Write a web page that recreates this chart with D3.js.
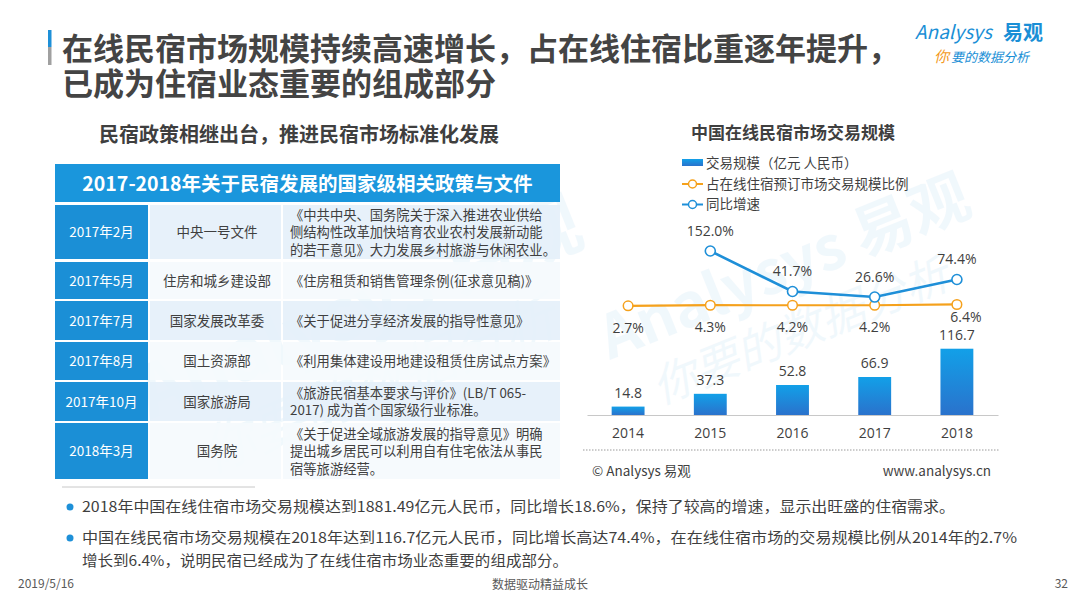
<!DOCTYPE html>
<html><head><meta charset="utf-8">
<script src="https://cdn.jsdelivr.net/npm/d3@7/dist/d3.min.js"></script>
<style>
html,body{margin:0;padding:0;background:#fff;}
svg{display:block;}
text{font-family:"Noto Sans CJK SC","Open Sans",sans-serif;}
.num{font-family:"Open Sans","Noto Sans CJK SC",sans-serif;}
</style></head>
<body>
<svg id="c" width="1080" height="607"></svg>
<script>
// ---------- data ----------
const years = ["2014","2015","2016","2017","2018"];
const marketSize = [14.8, 37.3, 52.8, 66.9, 116.7];           // 交易规模（亿元 人民币）
const shareOfOnline = [2.7, 4.3, 4.2, 4.2, 6.4];              // 占在线住宿预订市场交易规模比例 %
const yoyGrowth = [null, 152.0, 41.7, 26.6, 74.4];             // 同比增速 %

const legendLabels = ["交易规模（亿元 人民币）","占在线住宿预订市场交易规模比例","同比增速"];

const policyDates = ["2017年2月","2017年5月","2017年7月","2017年8月","2017年10月","2018年3月"];
const policyDepts = ["中央一号文件","住房和城乡建设部","国家发展改革委","国土资源部","国家旅游局","国务院"];
const policyDocs = [
  ["《中共中央、国务院关于深入推进农业供给","侧结构性改革加快培育农业农村发展新动能","的若干意见》大力发展乡村旅游与休闲农业。"],
  ["《住房租赁和销售管理条例(征求意见稿)》"],
  ["《关于促进分享经济发展的指导性意见》"],
  ["《利用集体建设用地建设租赁住房试点方案》"],
  ["《旅游民宿基本要求与评价》(LB/T  065-","2017) 成为首个国家级行业标准。"],
  ["《关于促进全域旅游发展的指导意见》明确","提出城乡居民可以利用自有住宅依法从事民","宿等旅游经营。"]
];
const bullets = [
  ["2018年中国在线住宿市场交易规模达到1881.49亿元人民币，同比增长18.6%，保持了较高的增速，显示出旺盛的住宿需求。"],
  ["中国在线民宿市场交易规模在2018年达到116.7亿元人民币，同比增长高达74.4%，在在线住宿市场的交易规模比例从2014年的2.7%","增长到6.4%，说明民宿已经成为了在线住宿市场业态重要的组成部分。"]
];

// ---------- drawing ----------
const svg = d3.select("#c");
const defs = svg.append("defs");
const grad = defs.append("linearGradient").attr("id","barGrad").attr("x1",0).attr("y1",0).attr("x2",0).attr("y2",1);
grad.append("stop").attr("offset","0%").attr("stop-color","#12a0e8");
grad.append("stop").attr("offset","100%").attr("stop-color","#2a72cc");

const dark = "#3f3f3f";

// watermarks
function watermark(x, y, s){
  const g = svg.append("g").attr("transform",`translate(${x},${y}) rotate(-22) scale(${s})`).attr("opacity",0.06);
  g.append("text").attr("x",0).attr("y",0).attr("font-size",80).attr("font-weight",700)
   .attr("fill","#1e90d8").attr("font-family","Open Sans, sans-serif").text("Analysys 易观");
  g.append("text").attr("x",40).attr("y",80).attr("font-size",60)
   .attr("fill","#1e90d8").attr("font-style","italic").text("你要的数据分析");
}
watermark(150, 420, 0.9);
watermark(610, 360, 0.75);

// title
svg.append("rect").attr("x",48).attr("y",30).attr("width",3.5).attr("height",17).attr("fill","#1e90d8");
svg.append("rect").attr("x",48).attr("y",47).attr("width",3.5).attr("height",18).attr("fill","#a0a0a0");
const title = svg.append("text").attr("font-size",31).attr("font-weight",700).attr("fill","#444");
title.append("tspan").attr("x",62).attr("y",60).text("在线民宿市场规模持续高速增长，占在线住宿比重逐年提升，");
title.append("tspan").attr("x",62).attr("y",95).text("已成为住宿业态重要的组成部分");

// logo
svg.append("text").attr("x",915).attr("y",39).attr("font-size",19).attr("fill","#1a8fd6")
  .attr("font-family","Open Sans, sans-serif").attr("font-style","italic").text("Analysys");
svg.append("text").attr("x",1003).attr("y",40).attr("font-size",20).attr("font-weight",700).attr("fill","#1a8fd6").text("易观");
const tl = svg.append("text").attr("x",934).attr("y",62).attr("font-size",13).attr("font-style","italic");
tl.append("tspan").attr("fill","#f39a1e").attr("font-size",15).text("你");
tl.append("tspan").attr("fill","#1a8fd6").attr("dx",2).text("要的数据分析");

// left heading
svg.append("text").attr("x",299).attr("y",142).attr("text-anchor","middle").attr("font-size",20)
  .attr("font-weight",700).attr("fill",dark).text("民宿政策相继出台，推进民宿市场标准化发展");

// table
const tx0 = 55, tx1 = 150, tx2 = 283, tx3 = 560;
svg.append("rect").attr("x",tx0).attr("y",164).attr("width",tx3-tx0).attr("height",38).attr("fill","#1a96dc");
svg.append("text").attr("x",(tx0+tx3)/2).attr("y",191).attr("text-anchor","middle").attr("font-size",19.5)
  .attr("font-weight",700).attr("fill","#fff").text("2017-2018年关于民宿发展的国家级相关政策与文件");

const rowTops = [205, 262, 301, 342, 382, 423];
const rowBots = [259, 299, 340, 380, 421, 479];
const rows = svg.append("g").selectAll("g").data(policyDates).join("g");
rows.each(function(d,i){
  const g = d3.select(this);
  const y0 = rowTops[i], y1 = rowBots[i], h = y1-y0, cy = (y0+y1)/2;
  const bg = i%2===0 ? "#e4f0fa" : "#f5f9fd";
  g.append("rect").attr("x",tx0).attr("y",y0).attr("width",tx1-tx0-2).attr("height",h).attr("fill","#1b8fd6");
  g.append("rect").attr("x",tx1).attr("y",y0).attr("width",tx2-tx1-2).attr("height",h).attr("fill",bg).attr("opacity",0.9);
  g.append("rect").attr("x",tx2).attr("y",y0).attr("width",tx3-tx2).attr("height",h).attr("fill",bg).attr("opacity",0.9);
  g.append("text").attr("x",(tx0+tx1-2)/2).attr("y",cy+5).attr("text-anchor","middle").attr("font-size",13.5)
    .attr("fill","#fff").text(policyDates[i]);
  g.append("text").attr("x",217).attr("y",cy+5).attr("text-anchor","middle").attr("font-size",13.5)
    .attr("fill",dark).text(policyDepts[i]);
  const lines = policyDocs[i];
  const lh = 17.5;
  const startY = cy - (lines.length-1)*lh/2 + 5;
  lines.forEach((ln,k)=>{
    g.append("text").attr("x",290).attr("y",startY+k*lh).attr("font-size",13.3).attr("fill",dark).text(ln);
  });
});

// ---------- chart ----------
svg.append("text").attr("x",793).attr("y",139).attr("text-anchor","middle").attr("font-size",17)
  .attr("font-weight",700).attr("fill",dark).text("中国在线民宿市场交易规模");

const x = d3.scaleBand().domain(years).range([587, 998]).paddingInner(0.6).paddingOuter(0.3);
const yBar = d3.scaleLinear().domain([0, 130]).range([415, 415 - 130*0.568]);
const yPct = d3.scaleLinear().domain([0, 160]).range([306.8, 306.8 - 160*0.367]);
const cx = d => x(d) + x.bandwidth()/2;

const orange = "#f5a11c", blue = "#1e8fd8";

// legend
const lg = svg.append("g");
lg.append("rect").attr("x",682).attr("y",159).attr("width",21).attr("height",7).attr("fill","url(#barGrad)");
[orange, blue].forEach((c,i)=>{
  const yy = 184 + i*20.5;
  lg.append("line").attr("x1",682).attr("x2",703).attr("y1",yy).attr("y2",yy).attr("stroke",c).attr("stroke-width",2);
  lg.append("circle").attr("cx",692.5).attr("cy",yy).attr("r",4).attr("fill","#fff").attr("stroke",c).attr("stroke-width",1.5);
});
legendLabels.forEach((t,i)=>{
  lg.append("text").attr("x",706).attr("y",168 + i*20.5).attr("font-size",13.5).attr("fill",dark).text(t);
});

// bars
svg.append("g").selectAll("rect").data(years).join("rect")
  .attr("x", d => x(d)).attr("width", x.bandwidth())
  .attr("y", (d,i) => yBar(marketSize[i])).attr("height", (d,i) => yBar(0) - yBar(marketSize[i]))
  .attr("fill","url(#barGrad)");
svg.append("g").selectAll("text").data(years).join("text").attr("class","num")
  .attr("x", d => cx(d)).attr("y", (d,i) => yBar(marketSize[i]) - 9)
  .attr("text-anchor","middle").attr("font-size",14).attr("fill",dark)
  .text((d,i) => marketSize[i].toFixed(1));

// axis
const axis = svg.append("g").attr("transform",`translate(0,${yBar(0)})`)
  .call(d3.axisBottom(x).tickSize(0).tickPadding(13));
axis.select(".domain").attr("stroke","#c8c8c8").attr("stroke-width",1.2);
axis.selectAll("text").attr("class","num").attr("font-size",14).attr("fill",dark)
  .attr("font-family","Open Sans, sans-serif");

// share line
const shareLine = d3.line().x((d,i)=>cx(years[i])).y(d=>yPct(d));
svg.append("path").datum(shareOfOnline).attr("d",shareLine).attr("fill","none")
  .attr("stroke",orange).attr("stroke-width",2.2);
svg.append("g").selectAll("circle").data(shareOfOnline).join("circle")
  .attr("cx",(d,i)=>cx(years[i])).attr("cy",d=>yPct(d)).attr("r",4.8)
  .attr("fill","#fff").attr("stroke",orange).attr("stroke-width",1.5);
svg.append("g").selectAll("text").data(shareOfOnline).join("text").attr("class","num")
  .attr("x",(d,i)=>cx(years[i]) + (i===years.length-1 ? 9 : 0))
  .attr("y",(d,i)=>yPct(d) + (i===years.length-1 ? 18 : 27))
  .attr("text-anchor","middle").attr("font-size",14).attr("fill",dark)
  .text(d=>d.toFixed(1)+"%");

// growth line
const gData = yoyGrowth.map((v,i)=>({v, k: years[i]})).filter(d=>d.v!=null);
const gLine = d3.line().x(d=>cx(d.k)).y(d=>yPct(d.v));
svg.append("path").datum(gData).attr("d",gLine).attr("fill","none")
  .attr("stroke",blue).attr("stroke-width",2.6);
svg.append("g").selectAll("circle").data(gData).join("circle")
  .attr("cx",d=>cx(d.k)).attr("cy",d=>yPct(d.v)).attr("r",5)
  .attr("fill","#fff").attr("stroke",blue).attr("stroke-width",1.6);
svg.append("g").selectAll("text").data(gData).join("text").attr("class","num")
  .attr("x",d=>cx(d.k)).attr("y",d=>yPct(d.v)-15)
  .attr("text-anchor","middle").attr("font-size",14).attr("fill",dark)
  .text(d=>d.v.toFixed(1)+"%");

// source line
svg.append("line").attr("x1",583).attr("x2",1000).attr("y1",450).attr("y2",450)
  .attr("stroke","#9a9a9a").attr("stroke-width",1).attr("stroke-dasharray","1.5,1.5");
svg.append("text").attr("x",592).attr("y",476).attr("font-size",13.5).attr("fill",dark).text("© Analysys 易观");
svg.append("text").attr("x",991).attr("y",476).attr("text-anchor","end").attr("font-size",13.5)
  .attr("fill",dark).attr("font-family","Open Sans, sans-serif").text("www.analysys.cn");

// bullets
svg.append("line").attr("x1",62).attr("x2",255).attr("y1",487).attr("y2",487).attr("stroke","#c8c8c8");
const bulletY = [512, 543];
const widths = [[873],[935,486]];
bullets.forEach((lines,i)=>{
  svg.append("circle").attr("cx",70).attr("cy",bulletY[i]-5).attr("r",3.5).attr("fill","#1e90d8");
  lines.forEach((ln,k)=>{
    svg.append("text").attr("x",82).attr("y",bulletY[i]+k*22.5).attr("font-size",14.5).attr("fill",dark)
      .attr("textLength",widths[i][k]).attr("lengthAdjust","spacingAndGlyphs").text(ln);
  });
});

// footer
svg.append("text").attr("x",18).attr("y",588).attr("font-size",12).attr("fill","#595959").text("2019/5/16");
svg.append("text").attr("x",540).attr("y",589).attr("text-anchor","middle").attr("font-size",12).attr("fill","#595959").text("数据驱动精益成长");
svg.append("text").attr("x",1068).attr("y",588).attr("text-anchor","end").attr("font-size",12).attr("fill","#595959").text("32");
</script>
</body></html>
